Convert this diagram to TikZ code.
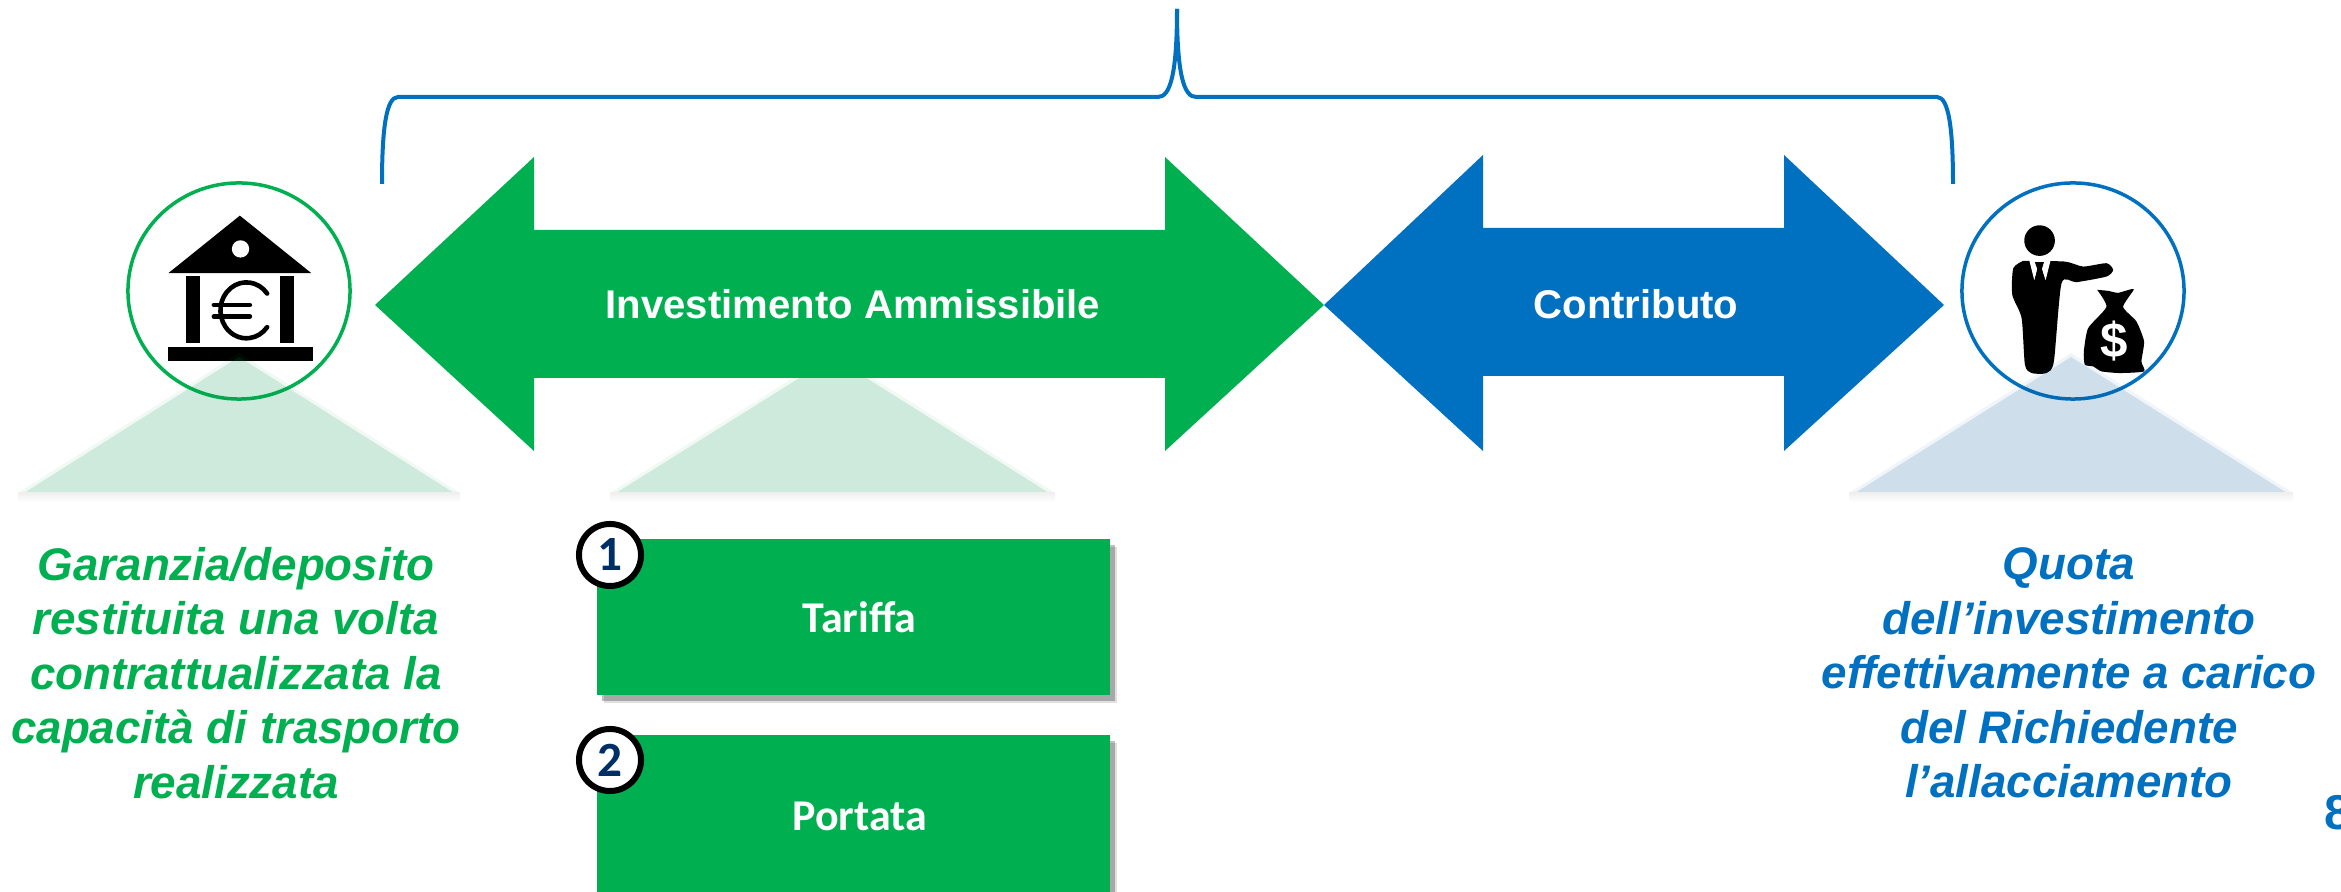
\documentclass[tikz,border=0pt]{standalone}
\usepackage{fontspec}
\setmainfont{Liberation Sans}
\newfontfamily\carlito{Carlito}
\usepackage{tikz}
\usetikzlibrary{shapes.geometric,shadows}
\definecolor{ggreen}{HTML}{00B050}
\definecolor{gblue}{HTML}{0070C0}
\definecolor{gnavy}{HTML}{002F66}
\definecolor{tgreen}{HTML}{009147}
\definecolor{tblue}{HTML}{005799}

\begin{document}
\begin{tikzpicture}[
   x=0.01cm,y=-0.01cm,
   ring/.style={draw,ellipse,line width=0.035cm,minimum width=2.22cm,minimum height=2.16cm,inner sep=0pt},
   halo/.style={fill opacity=.06},
   shadetri/.style={fill opacity=.14},
   icon/.style={x=0.00333cm,y=-0.00333cm},
   euro/.style={line width=0.046cm,line cap=round},
   label/.style={align=center,font=\bfseries\itshape\fontsize{13}{15.5}\selectfont},
   title/.style={text=white,font=\bfseries\fontsize{11.4}{13}\selectfont},
   greenbox/.style={fill=ggreen,minimum width=5.13cm,anchor=north west,text=white,outer sep=0pt,
      font=\carlito\bfseries\fontsize{12.5}{14}\selectfont,
      drop shadow={shadow xshift=.07cm,shadow yshift=-.08cm,fill=black,opacity=.12},
      drop shadow={shadow xshift=.05cm,shadow yshift=-.06cm,fill=black,opacity=.25}},
   badge/.style={draw=black,fill=white,circle,line width=0.06cm,minimum size=0.62cm,inner sep=0pt,
      text=gnavy,font=\carlito\bfseries\fontsize{14}{16}\selectfont},
   brace/.style={draw=gblue,line width=0.04cm}]
\useasboundingbox (0,0) rectangle (2341,892);
% middle triangle goes under the arrow
\fill[tgreen,halo] (610,493) -- (833,353) -- (1055,493) -- cycle;
\fill[tgreen,shadetri] (616,493) -- (833,357) -- (1049,493) -- cycle;
\shade[top color=black!6,bottom color=white] (610,493) rectangle (1055,502);
% the two double arrows
\fill[ggreen] (375,305) -- (534,157) -- (534,230) -- (1165,230) -- (1165,157) -- (1324,305)
   -- (1165,451) -- (1165,378) -- (534,378) -- (534,451) -- cycle;
\fill[gblue] (1324,305) -- (1483,155) -- (1483,228) -- (1784,228) -- (1784,155) -- (1944,305)
   -- (1784,451) -- (1784,376) -- (1483,376) -- (1483,451) -- cycle;
\node[title] (invest) at (853,304) {Investimento Ammissibile};
\node[title] (contrib) at (1636,304) {Contributo};
% brace
\coordinate (brace_{l}) at (382,184);
\coordinate (brace_{t}) at (1177,9);
\coordinate (brace_{r}) at (1953,184);
\draw[brace] (brace_{l}) .. controls (382,130) and (386,97) .. (398,97) -- (1158,97)
   .. controls (1170,97) and (1177,75) .. (brace_{t});
\draw[brace] (brace_{r}) .. controls (1953,130) and (1949,97) .. (1937,97) -- (1196,97)
   .. controls (1184,97) and (1177,75) .. (brace_{t});
% circles
\node[ring,draw=ggreen] (bank) at (239,291) {};
\node[ring,draw=gblue] (man) at (2073,291) {};
% bank icon
\begin{scope}[shift={(150,205)},icon]
\fill (270,32) -- (485,205) -- (55,205) -- cycle;
\fill[white] (272,132) circle (26);
\fill (109,214) rectangle (150,416);
\fill (391,214) rectangle (432,416);
\fill (53,427) rectangle (490,468);
\draw[euro] (352,266) arc (-37:-323:78 and 84);
\draw[euro] (192,300) -- (300,300);
\draw[euro] (192,335) -- (300,335);
\end{scope}
% man and bag icon
\begin{scope}[shift={(1980,205)},icon]
\fill (179,107) circle (46);
\fill plot[smooth,tension=.4] coordinates {(130,168) (100,190) (97,270) (125,340) (135,480)
   (155,505) (200,505) (222,470) (245,235) (290,232) (380,215) (400,195) (380,175) (310,185)
   (255,170) (130,168)};
\fill[white] (148,166) -- (163,226) -- (179,172) -- (197,226) -- (212,166) -- cycle;
\fill (165,172) -- (192,172) -- (186,192) -- (193,226) -- (165,226) -- (172,192) -- cycle;
\fill plot[smooth,tension=.35] coordinates {(352,255) (385,258) (415,264) (462,253) (430,306)
   (470,350) (493,410) (485,470) (493,500) (420,505) (365,500) (340,485) (315,480) (312,440)
   (325,370) (380,306) (352,255)};
\node[text=white,font=\bfseries\fontsize{14}{16}\selectfont,inner sep=0pt] (dollar) at (403,408) {\$};
\end{scope}
% pale triangles on top of circles
\fill[tgreen,halo] (18,493) -- (239,353) -- (460,493) -- cycle;
\fill[tgreen,shadetri] (24,493) -- (239,357) -- (454,493) -- cycle;
\shade[top color=black!6,bottom color=white] (18,493) rectangle (460,502);
\fill[tblue,halo] (1849,493) -- (2071,353) -- (2293,493) -- cycle;
\fill[tblue,shadetri] (1855,493) -- (2071,357) -- (2287,493) -- cycle;
\shade[top color=black!6,bottom color=white] (1849,493) rectangle (2293,502);
% captions
\node[label,text=ggreen] (garanzia) at (236,673) {Garanzia/deposito\\restituita una volta\\contrattualizzata la\\capacità di trasporto\\realizzata};
\node[label,text=gblue] (quota) at (2069,673) {Quota\\dell’investimento\\effettivamente a carico\\del Richiedente\\l’allacciamento};
% boxes
\node[greenbox,minimum height=1.56cm] (tariffa) at (597,539) {\hspace*{.12cm}Tariffa};
\node[greenbox,minimum height=1.62cm] (portata) at (597,735) {\hspace*{.12cm}Portata};
\node[badge] (badge_{1}) at (610,555) {1};
\node[badge] (badge_{2}) at (610,760) {2};
% page number, cut by the page edge
\node[text=gblue,font=\bfseries\fontsize{13.9}{15}\selectfont,anchor=west,inner sep=0pt] (page) at (2324,813) {8};
\end{tikzpicture}
\end{document}
